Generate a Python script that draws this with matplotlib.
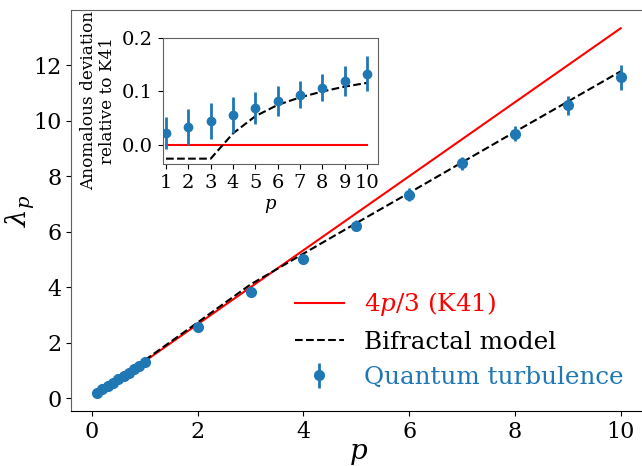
import numpy as np
import matplotlib
matplotlib.use('Agg')
import matplotlib.pyplot as plt

plt.rcParams['font.family'] = 'DejaVu Serif'
plt.rcParams['mathtext.fontset'] = 'dejavuserif'

# structure function exponents
p_small = [0.1, 0.2, 0.3, 0.4, 0.5, 0.6, 0.7, 0.8, 0.9, 1.0]
lam_small = [0.20, 0.32, 0.44, 0.56, 0.68, 0.80, 0.92, 1.05, 1.17, 1.30]
err_small = [0.004, 0.008, 0.012, 0.016, 0.02, 0.024, 0.028, 0.032, 0.036, 0.04]

p_int = [1, 2, 3, 4, 5, 6, 7, 8, 9, 10]
lam_int = [1.30, 2.58, 3.82, 5.03, 6.21, 7.34, 8.46, 9.53, 10.56, 11.56]
err_int = [0.04, 0.09, 0.13, 0.18, 0.20, 0.22, 0.23, 0.27, 0.34, 0.44]

k41 = [1.333, 2.667, 4.0, 5.333, 6.667, 8.0, 9.333, 10.667, 12.0, 13.333]
bifractal = [1.37, 2.73, 4.10, 5.21, 6.31, 7.40, 8.50, 9.60, 10.69, 11.78]

# inset: anomalous deviation relative to K41
dev_qt = [0.023, 0.034, 0.045, 0.056, 0.069, 0.082, 0.094, 0.107, 0.120, 0.133]
dev_err = [0.030, 0.033, 0.033, 0.033, 0.030, 0.028, 0.025, 0.025, 0.028, 0.033]
dev_bif = [-0.025, -0.025, -0.025, 0.022, 0.054, 0.075, 0.089, 0.100, 0.109, 0.116]
dev_k41 = [0, 0, 0, 0, 0, 0, 0, 0, 0, 0]

blue = '#1f77b4'
spine_grey = '#606060'

fig = plt.figure(figsize=(6.42, 4.66), dpi=100)
ax = fig.add_axes([0.1106, 0.118, 0.897, 0.8605])

p_all = p_small + p_int[1:]
lam_all = lam_small + lam_int[1:]
err_all = err_small + err_int[1:]

ax.plot(p_int, k41, color='red', lw=1.5, label=r'$4p/3$ (K41)')
ax.plot(p_int, bifractal, color='black', ls='--', lw=1.5, label='Bifractal model')
ax.errorbar(p_all, lam_all, yerr=err_all, fmt='o', color=blue, ms=7,
            elinewidth=2, label='Quantum turbulence')

ax.set_xticks([0, 2, 4, 6, 8, 10])
ax.set_yticks([0, 2, 4, 6, 8, 10, 12])
ax.tick_params(labelsize=16)
ax.set_xlabel(r'$p$', fontsize=20, labelpad=-2)
ax.set_ylabel(r'$\lambda_p$', fontsize=20, labelpad=-3)
ax.spines['left'].set_color(spine_grey)
ax.spines['top'].set_color(spine_grey)

leg = ax.legend(loc='lower left', bbox_to_anchor=(0.35, 0.0), frameon=False,
                fontsize=17.7, handlelength=2.0)
for txt, c in zip(leg.get_texts(), ['red', 'black', blue]):
    txt.set_color(c)

# inset
ins = fig.add_axes([0.2534, 0.648, 0.3349, 0.271])
ins.plot(p_int, dev_k41, color='red', lw=1.5)
ins.plot(p_int, dev_bif, color='black', ls='--', lw=1.5)
ins.errorbar(p_int, dev_qt, yerr=dev_err, fmt='o', color=blue, ms=6,
             elinewidth=2)
ins.set_xlim(0.85, 10.48)
ins.set_ylim(-0.035, 0.2)
ins.set_xticks(p_int)
ins.set_yticks([0.0, 0.1, 0.2])
ins.tick_params(labelsize=14)
ins.set_xlabel(r'$p$', fontsize=13)
ins.set_ylabel('Anomalous deviation\nrelative to K41', fontsize=12.2)
for s in ins.spines.values():
    s.set_color(spine_grey)

plt.savefig('out.png', dpi=100)
